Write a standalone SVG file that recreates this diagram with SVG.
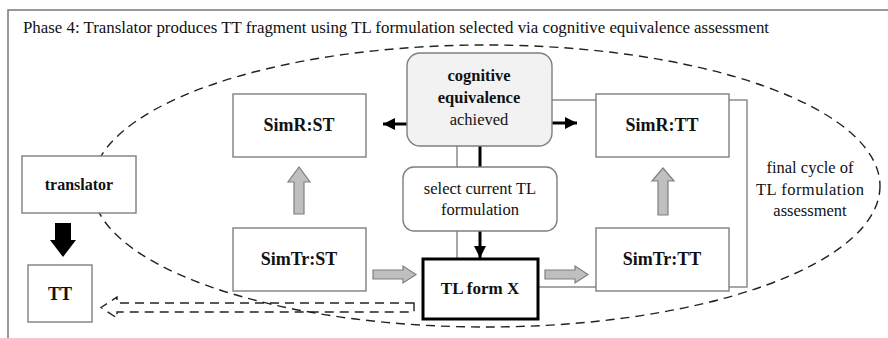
<svg xmlns="http://www.w3.org/2000/svg" width="888" height="338" viewBox="0 0 888 338" font-family="'Liberation Serif', 'DejaVu Serif', serif">
<defs>
<style>
text{font-family:'Liberation Serif','DejaVu Serif',serif;fill:#111;text-anchor:middle}
.b{font-weight:bold}
.box{fill:#fff;stroke:#7f7f7f;stroke-width:1.4}
.blk{fill:#000;stroke:none}
.garr{fill:#bfbfbf;stroke:#7f7f7f;stroke-width:1.2}
.bl{stroke:#000;stroke-width:3;fill:none}
.loop{stroke:#8c8c8c;stroke-width:1.5;fill:none}
.dash{fill:none;stroke:#222;stroke-width:1.4;stroke-dasharray:9,6}
</style>
<marker id="ah" markerUnits="userSpaceOnUse" markerWidth="13" markerHeight="12" refX="12" refY="6" orient="auto">
<path d="M0,0 L12,6 L0,12 Z" fill="#000"/>
</marker>
</defs>
<rect x="0" y="0" width="888" height="338" fill="#fff"/>
<path d="M8,338 V10 H888" fill="none" stroke="#777" stroke-width="1.5"/>
<text x="23" y="33" font-family="Liberation Serif, serif" style="text-anchor:start;font-size:16px" textLength="746" lengthAdjust="spacingAndGlyphs">Phase 4: Translator produces TT fragment using TL formulation selected via cognitive equivalence assessment</text>

<ellipse class="dash" cx="486" cy="186" rx="394" ry="141"/>

<g id="connectors">
<path class="loop" d="M552,100 H747 V287 H538 M457,259 V146"/>
<line class="bl" x1="407" y1="124" x2="383" y2="124" marker-end="url(#ah)"/>
<line class="bl" x1="552" y1="123" x2="577" y2="123" marker-end="url(#ah)"/>
<line class="bl" x1="480" y1="146" x2="480" y2="168"/>
<line class="bl" x1="480" y1="231" x2="480" y2="258" marker-end="url(#ah)"/>
<polygon class="blk" points="55,223 71,223 71,240 76,240 63,257 50,240 55,240"/>
<polygon class="garr" points="373,270 403,270 403,266 416,274.5 403,283 403,279 373,279"/>
<polygon class="garr" points="545,270 575,270 575,266 588,274.5 575,283 575,279 545,279"/>
<polygon class="garr" points="294,214 294,182 288,182 299,167 310,182 304,182 304,214"/>
<polygon class="garr" points="658,215 658,181 652,181 663,168 674,181 668,181 668,215"/>
<path class="dash" d="M414,303 H117 V297 L101,307.5 L117,318 V312 H414 Z" stroke-dasharray="8,4"/>
</g>

<g id="translator">
<rect class="box" x="22" y="156" width="114" height="57"/>
<text class="b" x="79" y="190" font-family="Liberation Serif, serif" style="font-size:16px">translator</text>
</g>
<g id="tt">
<rect class="box" x="28" y="265" width="64" height="57"/>
<text class="b" x="60" y="300" font-family="Liberation Serif, serif" style="font-size:18px">TT</text>
</g>
<g id="cognitive">
<rect x="407" y="53" width="145" height="93" rx="13" fill="#f2f2f2" stroke="#7f7f7f" stroke-width="1.4"/>
<text class="b" x="479" y="81" font-family="Liberation Serif, serif" style="font-size:16.5px">cognitive</text>
<text class="b" x="479" y="103" font-family="Liberation Serif, serif" style="font-size:16.5px">equivalence</text>
<text x="479" y="125" font-family="Liberation Serif, serif" style="font-size:16.5px">achieved</text>
</g>
<g id="simr-st">
<rect class="box" x="233" y="94" width="133" height="63"/>
<text class="b" x="299" y="131" font-family="Liberation Serif, serif" style="font-size:18px">SimR:ST</text>
</g>
<g id="simr-tt">
<rect class="box" x="596" y="94" width="133" height="63"/>
<text class="b" x="662" y="131" font-family="Liberation Serif, serif" style="font-size:18px">SimR:TT</text>
</g>
<g id="select">
<rect x="403" y="167" width="154" height="64" rx="11" fill="#fff" stroke="#7f7f7f" stroke-width="1.4"/>
<text x="480" y="194" font-family="Liberation Serif, serif" style="font-size:16.5px">select current TL</text>
<text x="480" y="215" font-family="Liberation Serif, serif" style="font-size:16.5px">formulation</text>
</g>
<g id="simtr-st">
<rect class="box" x="233" y="228" width="133" height="63"/>
<text class="b" x="299" y="265" font-family="Liberation Serif, serif" style="font-size:18px">SimTr:ST</text>
</g>
<g id="tl-form-x">
<rect x="423" y="259" width="115" height="60" fill="#fff" stroke="#000" stroke-width="3"/>
<text class="b" x="480" y="294" font-family="Liberation Serif, serif" style="font-size:17px">TL form X</text>
</g>
<g id="simtr-tt">
<rect class="box" x="596" y="228" width="133" height="63"/>
<text class="b" x="662" y="265" font-family="Liberation Serif, serif" style="font-size:18px">SimTr:TT</text>
</g>
<g id="final-cycle">
<text x="810" y="173" font-family="Liberation Serif, serif" style="font-size:16.5px">final cycle of</text>
<text x="810" y="195" font-family="Liberation Serif, serif" style="font-size:16.5px" textLength="108" lengthAdjust="spacing">TL formulation</text>
<text x="810" y="216" font-family="Liberation Serif, serif" style="font-size:16.5px">assessment</text>
</g>
</svg>
